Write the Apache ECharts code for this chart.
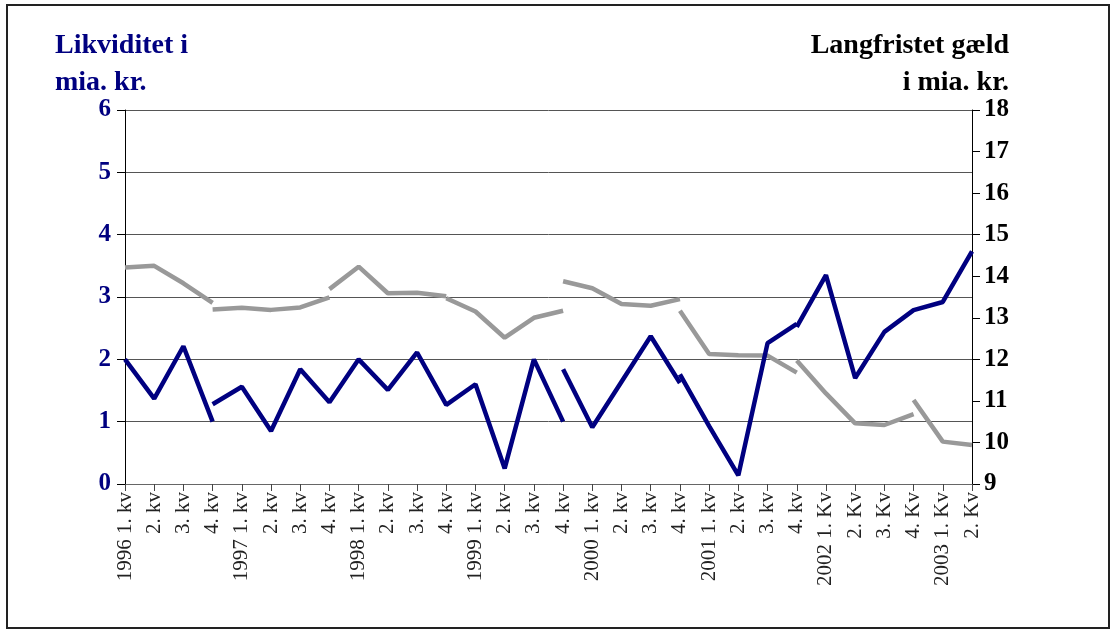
<!DOCTYPE html>
<html>
<head>
<meta charset="utf-8">
<script src="https://cdn.jsdelivr.net/npm/echarts@6/dist/echarts.min.js"></script>
<style>
  html, body { margin: 0; padding: 0; background: #fff; }
  #frame { position: absolute; left: 6px; top: 4px; width: 1100px; height: 621px; border: 2px solid #222; }
  #main { position: absolute; left: 0; top: 0; width: 1118px; height: 635px; }
</style>
</head>
<body>
<div id="frame"></div>
<div id="main"></div>
<script>
// kvartaler
const quarters = [
  '1996 1. kv', '2. kv', '3. kv', '4. kv',
  '1997 1. kv', '2. kv', '3. kv', '4. kv',
  '1998 1. kv', '2. kv', '3. kv', '4. kv',
  '1999 1. kv', '2. kv', '3. kv', '4. kv',
  '2000 1. kv', '2. kv', '3. kv', '4. kv',
  '2001 1. kv', '2. kv', '3. kv', '4. kv',
  '2002 1. Kv', '2. Kv', '3. Kv', '4. Kv',
  '2003 1. Kv', '2. Kv'
];

// Likviditet (mia. kr.), venstre akse - stykker med startindeks
const liqStarts = [0, 3, 15, 19, 23];
const liq1 = [2.0, 1.37, 2.21, 1.0];
const liq2 = [1.28, 1.56, 0.85, 1.84, 1.31, 2.0, 1.51, 2.11, 1.27, 1.6, 0.25, 2.0, 1.0];
const liq3 = [1.84, 0.91, 1.64, 2.37, 1.62];
const liq4 = [1.76, 0.93, 0.14, 2.26, 2.57];
const liq5 = [2.52, 3.35, 1.7, 2.44, 2.79, 2.92, 3.73];

// Langfristet gæld (mia. kr.), højre akse
const debtStarts = [0, 3, 7, 11, 15, 19, 23, 27];
const debt1 = [14.21, 14.25, 13.83, 13.36];
const debt2 = [13.2, 13.24, 13.19, 13.25, 13.49];
const debt3 = [13.69, 14.23, 13.59, 13.6, 13.52];
const debt4 = [13.47, 13.15, 12.52, 13.0, 13.17];
const debt5 = [13.88, 13.71, 13.33, 13.29, 13.45];
const debt6 = [13.17, 12.13, 12.1, 12.09, 11.68];
const debt7 = [11.97, 11.18, 10.46, 10.42, 10.68];
const debt8 = [11.02, 10.02, 9.94];

const leftTicks = [0, 6, 1];   // min, max, interval
const rightTicks = [9, 18, 1];

function pad(start, vals) {
  return quarters.map(function (q, i) {
    return (i >= start && i < start + vals.length) ? vals[i - start] : null;
  });
}

const serif = '"Liberation Serif", "Times New Roman", serif';
const navy = '#000080';
const titleFont = { fontFamily: serif, fontSize: 28, fontWeight: 'bold', lineHeight: 37 };

let series = [];
[debt1, debt2, debt3, debt4, debt5, debt6, debt7, debt8].forEach(function (vals, k) {
  series.push({
    name: 'Langfristet gæld',
    type: 'line',
    yAxisIndex: 1,
    data: pad(debtStarts[k], vals),
    showSymbol: false,
    connectNulls: false,
    lineStyle: { color: '#999999', width: 4.5 },
    itemStyle: { color: '#999999' },
    z: 2
  });
});
[liq1, liq2, liq3, liq4, liq5].forEach(function (vals, k) {
  series.push({
    name: 'Likviditet',
    type: 'line',
    yAxisIndex: 0,
    data: pad(liqStarts[k], vals),
    showSymbol: false,
    connectNulls: false,
    lineStyle: { color: navy, width: 4.5 },
    itemStyle: { color: navy },
    z: 3
  });
});

let chart = echarts.init(document.getElementById('main'));
chart.setOption({
  animation: false,
  backgroundColor: 'transparent',
  title: [
    { text: 'Likviditet i', left: 50, top: 22, textStyle: Object.assign({ color: navy }, titleFont) },
    { text: 'mia. kr.', left: 50, top: 59, textStyle: Object.assign({ color: navy }, titleFont) },
    { text: 'Langfristet gæld', right: 104, top: 22, textStyle: Object.assign({ color: '#000' }, titleFont) },
    { text: 'i mia. kr.', right: 104, top: 59, textStyle: Object.assign({ color: '#000' }, titleFont) }
  ],
  grid: { left: 125, right: 146, top: 110, bottom: 151, containLabel: false },
  xAxis: {
    type: 'category',
    data: quarters,
    boundaryGap: false,
    axisLine: { lineStyle: { color: '#666', width: 1 } },
    axisTick: { show: true, length: 7, lineStyle: { color: '#444' }, interval: 0 },
    axisLabel: {
      interval: 0,
      rotate: 90,
      margin: 8,
      fontFamily: serif,
      fontSize: 21,
      color: '#222'
    }
  },
  yAxis: [
    {
      type: 'value',
      min: leftTicks[0],
      max: leftTicks[1],
      interval: leftTicks[2],
      position: 'left',
      axisLine: { show: true, lineStyle: { color: '#000', width: 1 } },
      axisTick: { show: true, length: 8, lineStyle: { color: '#000' } },
      splitLine: { show: true, lineStyle: { color: '#555', width: 1 } },
      axisLabel: { margin: 14, fontFamily: serif, fontSize: 25, fontWeight: 'bold', color: navy }
    },
    {
      type: 'value',
      min: rightTicks[0],
      max: rightTicks[1],
      interval: rightTicks[2],
      position: 'right',
      axisLine: { show: true, lineStyle: { color: '#000', width: 1 } },
      axisTick: { show: true, length: 8, lineStyle: { color: '#000' } },
      splitLine: { show: false },
      axisLabel: { margin: 12, fontFamily: serif, fontSize: 25, fontWeight: 'bold', color: '#000' }
    }
  ],
  series: series
});
</script>
</body>
</html>
